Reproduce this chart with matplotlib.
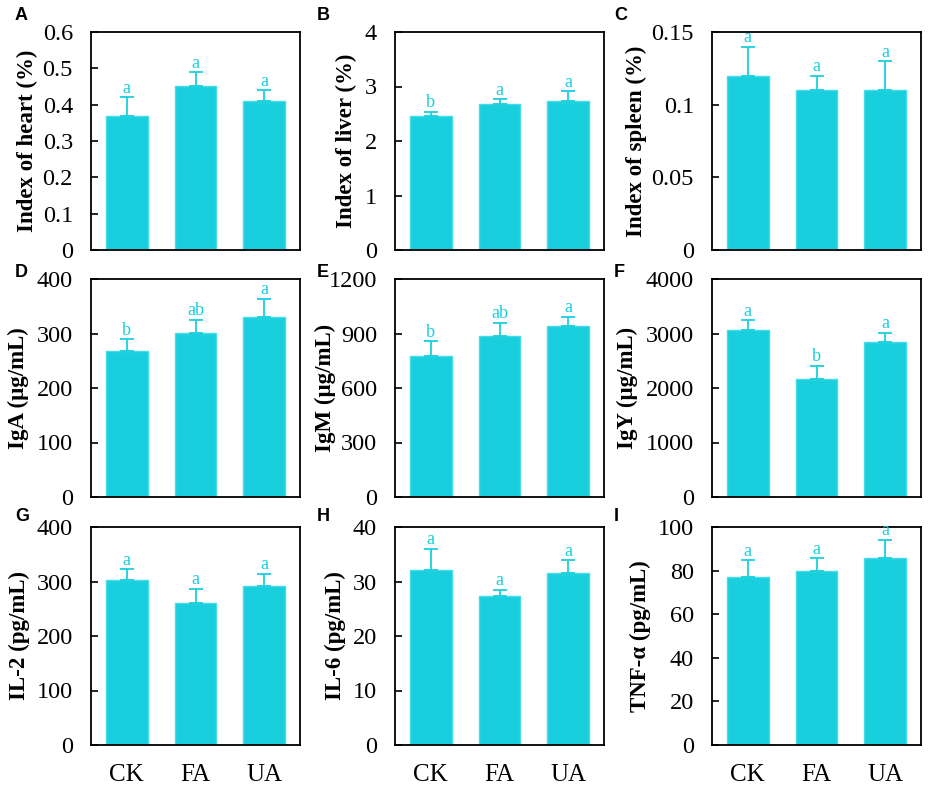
import matplotlib
matplotlib.use("Agg")
import matplotlib.pyplot as plt
from matplotlib.ticker import FuncFormatter

groups = ["CK", "FA", "UA"]

heart = [0.37, 0.45, 0.41]
heart_err = [0.05, 0.04, 0.03]
liver = [2.45, 2.67, 2.73]
liver_err = [0.09, 0.10, 0.18]
spleen = [0.12, 0.11, 0.11]
spleen_err = [0.02, 0.01, 0.02]
iga = [268, 301, 331]
iga_err = [22, 24, 33]
igm = [777, 885, 940]
igm_err = [82, 75, 53]
igy = [3066, 2174, 2846]
igy_err = [183, 232, 165]
il2 = [303, 261, 291]
il2_err = [20, 26, 23]
il6 = [32.1, 27.3, 31.5]
il6_err = [3.9, 1.2, 2.4]
tnf = [76.9, 79.6, 85.6]
tnf_err = [7.8, 6.2, 8.5]

heart_sig = ["a", "a", "a"]
liver_sig = ["b", "a", "a"]
spleen_sig = ["a", "a", "a"]
iga_sig = ["b", "ab", "a"]
igm_sig = ["b", "ab", "a"]
igy_sig = ["a", "b", "a"]
il2_sig = ["a", "a", "a"]
il6_sig = ["a", "a", "a"]
tnf_sig = ["a", "a", "a"]

ylabels = ["Index of heart (%)", "Index of liver (%)", "Index of spleen (%)",
           "IgA (\u03bcg/mL)", "IgM (\u03bcg/mL)", "IgY (\u03bcg/mL)",
           "IL-2 (pg/mL)", "IL-6 (pg/mL)", "TNF-\u03b1 (pg/mL)"]
panel_letters = ["A", "B", "C", "D", "E", "F", "G", "H", "I"]
yticks_list = [
    [0, 0.1, 0.2, 0.3, 0.4, 0.5, 0.6],
    [0, 1, 2, 3, 4],
    [0, 0.05, 0.1, 0.15],
    [0, 100, 200, 300, 400],
    [0, 300, 600, 900, 1200],
    [0, 1000, 2000, 3000, 4000],
    [0, 100, 200, 300, 400],
    [0, 10, 20, 30, 40],
    [0, 20, 40, 60, 80, 100],
]

values = [heart, liver, spleen, iga, igm, igy, il2, il6, tnf]
errors = [heart_err, liver_err, spleen_err, iga_err, igm_err, igy_err, il2_err, il6_err, tnf_err]
sigs = [heart_sig, liver_sig, spleen_sig, iga_sig, igm_sig, igy_sig, il2_sig, il6_sig, tnf_sig]

plt.rcParams["font.family"] = ["Liberation Serif", "DejaVu Serif"]

W, H = 935, 797
fig = plt.figure(figsize=(W / 100, H / 100), dpi=100)

col_left = [91, 395, 712]
row_top = [32, 279, 527]
ax_w = 209
ax_h = 218
letter_x = [15, 317, 614]
letter_y = [7, 264, 508]
# right edge (pixels) of each rotated y label box
label_right_px = [38, 357, 647, 29, 336, 638, 30, 346, 651]

bar_color = "#19CFDE"
edge_color = "#45DCE8"

for i in range(9):
    r, c = divmod(i, 3)
    x0 = col_left[c] / W
    y0 = 1 - (row_top[r] + ax_h) / H
    ax = fig.add_axes([x0, y0, ax_w / W, ax_h / H])
    xs = list(range(len(groups)))
    ax.bar(xs, values[i], width=0.61, color=bar_color, edgecolor=edge_color, linewidth=1.0, zorder=2)
    ax.errorbar(xs, values[i], yerr=[[0] * 3, errors[i]], fmt="none", ecolor=bar_color,
                elinewidth=1.3, capsize=5, capthick=1.3, zorder=3)
    for xi, v, e, s in zip(xs, values[i], errors[i], sigs[i]):
        ax.annotate(s, (xi, v + e), xytext=(0, 0.3), textcoords="offset points",
                    ha="center", va="bottom", fontsize=13, color=bar_color)
    yt = yticks_list[i]
    ax.set_ylim(yt[0], yt[-1])
    ax.set_yticks(yt)
    ax.yaxis.set_major_formatter(FuncFormatter(lambda v, p: "%g" % v))
    ax.set_xlim(-0.52, 2.52)
    ax.set_xticks(xs)
    if r == 2:
        ax.set_xticklabels(groups, fontsize=18)
    else:
        ax.set_xticklabels([])
    ax.tick_params(axis="x", length=0, pad=14)
    ax.tick_params(axis="y", direction="in", length=5, width=1.2, pad=13, labelsize=17.5)
    for sp in ax.spines.values():
        sp.set_linewidth(1.3)
        sp.set_color("black")
    ax.set_ylabel(ylabels[i], fontsize=16.5, fontweight="bold")
    ax.yaxis.set_label_coords((label_right_px[i] - col_left[c]) / ax_w, 0.5)
    fig.text(letter_x[c] / W, 1 - letter_y[r] / H, panel_letters[i], ha="left", va="top",
             fontsize=13, fontweight="bold", family=["Liberation Sans", "DejaVu Sans"])

fig.savefig("out.png", dpi=100)
